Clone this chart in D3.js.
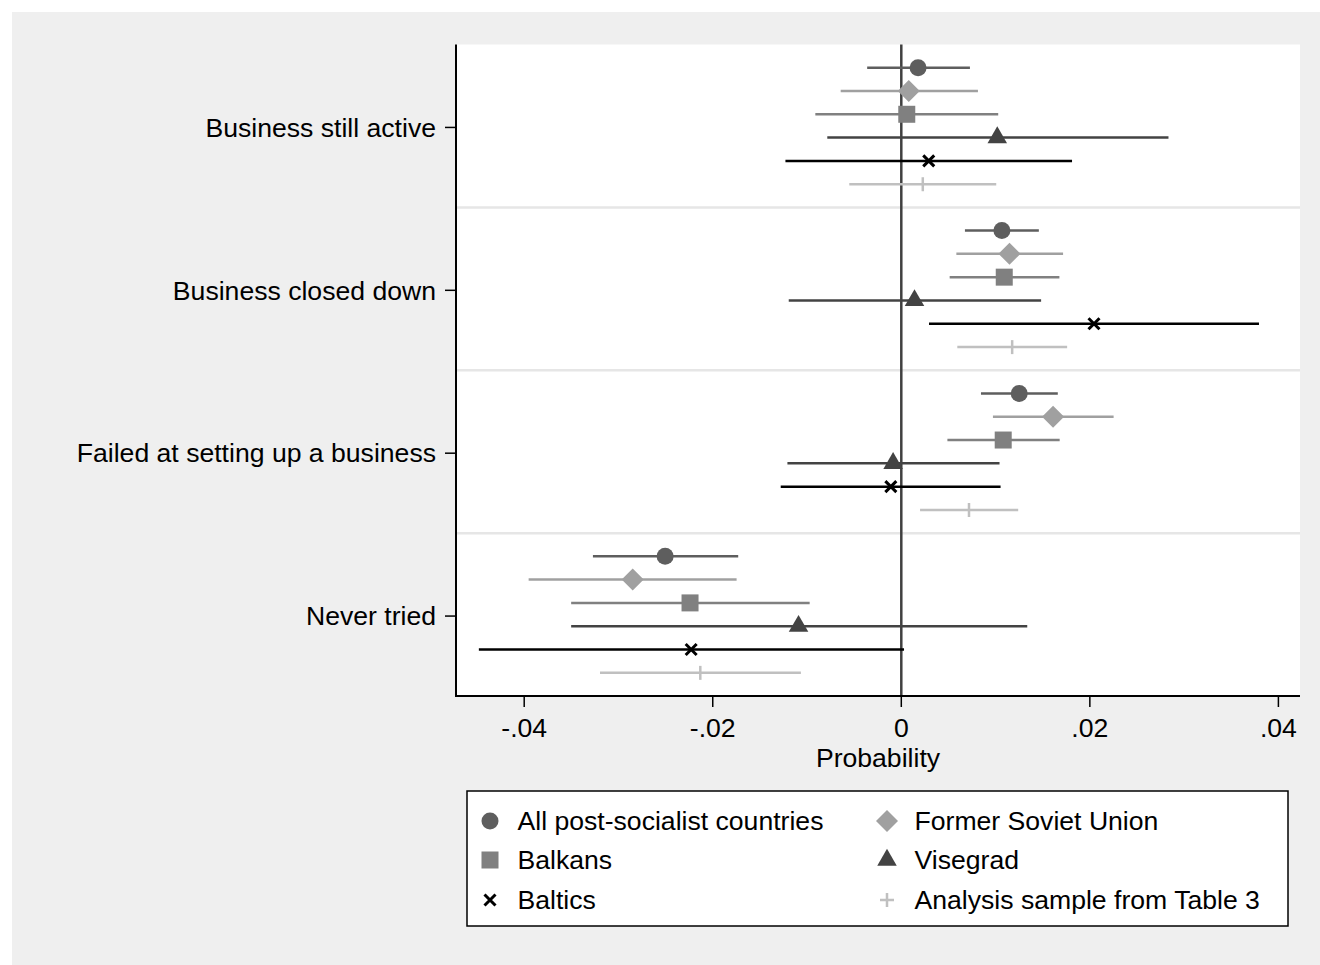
<!DOCTYPE html>
<html lang="en">
<head>
    <meta charset="UTF-8">
    <title>Probability by outcome</title>
    <script src="https://cdn.jsdelivr.net/npm/d3@7"></script>
</head>
<style>
    body { margin: 0; background: #ffffff; }
    text { font-family: "Liberation Sans", Arial, Helvetica, sans-serif; fill: #000; }
</style>
<body>
<script>

    var categories = ["Business still active", "Business closed down",
                      "Failed at setting up a business", "Never tried"];
    var series = ["All post-socialist countries", "Former Soviet Union", "Balkans",
                  "Visegrad", "Baltics", "Analysis sample from Table 3"];

    // point estimates, one row per series, one value per category
    var est = [
        [0.00178, 0.01067, 0.01251, -0.02505],
        [0.00079, 0.01148, 0.01610, -0.02849],
        [0.00058, 0.01092, 0.01081, -0.02241],
        [0.01018, 0.00140, -0.00087, -0.01090],
        [0.00291, 0.02044, -0.00111, -0.02229],
        [0.00228, 0.01176, 0.00718, -0.02132]
    ];
    // lower and upper bounds of the intervals
    var lo = [
        [-0.00362, 0.00675, 0.00845, -0.03271],
        [-0.00643, 0.00584, 0.00972, -0.03953],
        [-0.00912, 0.00513, 0.00489, -0.03502],
        [-0.00785, -0.01194, -0.01208, -0.03502],
        [-0.01229, 0.00294, -0.01279, -0.04481],
        [-0.00552, 0.00594, 0.00199, -0.03196]
    ];
    var hi = [
        [0.00728, 0.01459, 0.01660, -0.01730],
        [0.00813, 0.01716, 0.02252, -0.01747],
        [0.01028, 0.01677, 0.01680, -0.00972],
        [0.02834, 0.01483, 0.01042, 0.01336],
        [0.01811, 0.03794, 0.01053, 0.00029],
        [0.01007, 0.01759, 0.01240, -0.01065]
    ];
    var xTicks = [-0.04, -0.02, 0, 0.02, 0.04];
    var xTickLabels = ["-.04", "-.02", "0", ".02", ".04"];

    var colors = ["#5e5e5e", "#a0a0a0", "#808080", "#434343", "#000000", "#c0c0c0"];
    var shapes = ["circle", "diamond", "square", "triangle", "x", "plus"];

    var w = 1320, h = 965;
    var pLeft = 456, pRight = 1300, pTop = 44.5, pBottom = 696;
    var fs = "26.6px";

    var svg = d3.select("body").append("svg")
            .attr("width", w).attr("height", h);

    svg.append("rect").attr("width", w).attr("height", h).attr("fill", "#ffffff");
    svg.append("rect").attr("x", 12).attr("y", 12).attr("width", w - 12).attr("height", h - 12)
            .attr("fill", "#efefef");

    var x = d3.scaleLinear().domain([-0.04, 0.04]).range([524.2, 1278.4]);
    var y = d3.scaleBand().domain(categories).range([pTop, pBottom]);
    var row = d3.scalePoint().domain(series).range([-58.3, 58.3]);

    function rowY(cat, s) {
        return y(cat) + y.bandwidth() / 2 + row(s);
    }

    svg.append("rect").attr("x", pLeft).attr("y", pTop)
            .attr("width", pRight - pLeft).attr("height", pBottom - pTop)
            .attr("fill", "#ffffff");

    // separators between categories
    svg.selectAll("line.sep")
            .data(categories.slice(1))
            .enter().append("line")
            .attr("class", "sep")
            .attr("x1", pLeft).attr("x2", pRight)
            .attr("y1", function (d) { return y(d); })
            .attr("y2", function (d) { return y(d); })
            .attr("stroke", "#e6e6e6").attr("stroke-width", 2.5);

    // zero line
    svg.append("line")
            .attr("x1", x(0)).attr("x2", x(0))
            .attr("y1", pTop).attr("y2", pBottom)
            .attr("stroke", "#404040").attr("stroke-width", 2.5);

    function drawMarker(g, shape, color, legend) {
        if (shape === "circle") {
            g.append("circle").attr("r", 8.5).attr("fill", color);
        } else if (shape === "square") {
            g.append("rect").attr("x", -8.5).attr("y", -8.5).attr("width", 17).attr("height", 17)
                    .attr("fill", color);
        } else if (shape === "diamond") {
            g.append("path").attr("d", "M0,-11L11,0L0,11L-11,0Z").attr("fill", color);
        } else if (shape === "triangle") {
            g.append("path").attr("d", d3.symbol().type(d3.symbolTriangle).size(165)()).attr("fill", color);
        } else if (shape === "x") {
            g.append("path").attr("d", "M-5.5,-5.5L5.5,5.5M-5.5,5.5L5.5,-5.5")
                    .attr("stroke", color).attr("stroke-width", 3).attr("fill", "none");
        } else if (shape === "plus") {
            g.append("path").attr("d", legend ? "M0,-7L0,7M-7,0L7,0" : "M0,-7L0,7")
                    .attr("stroke", color).attr("stroke-width", 2.5).attr("fill", "none");
        }
    }

    series.forEach(function (s, i) {
        var pts = categories.map(function (c, k) {
            return {cat: c, e: est[i][k], l: lo[i][k], u: hi[i][k]};
        });
        var g = svg.append("g");
        g.selectAll("line")
                .data(pts)
                .enter().append("line")
                .attr("x1", function (d) { return x(d.l); })
                .attr("x2", function (d) { return x(d.u); })
                .attr("y1", function (d) { return rowY(d.cat, s); })
                .attr("y2", function (d) { return rowY(d.cat, s); })
                .attr("stroke", colors[i]).attr("stroke-width", 2.5);
        pts.forEach(function (d) {
            var m = g.append("g").attr("transform", "translate(" + x(d.e) + "," + rowY(d.cat, s) + ")");
            drawMarker(m, shapes[i], colors[i], false);
        });
    });

    // axes
    svg.append("line").attr("x1", pLeft).attr("x2", pLeft).attr("y1", pTop).attr("y2", pBottom + 1)
            .attr("stroke", "#000").attr("stroke-width", 2);
    svg.append("line").attr("x1", pLeft).attr("x2", pRight).attr("y1", pBottom).attr("y2", pBottom)
            .attr("stroke", "#000").attr("stroke-width", 2);

    svg.selectAll("line.ytick")
            .data(categories).enter().append("line")
            .attr("x1", pLeft - 11).attr("x2", pLeft)
            .attr("y1", function (d) { return y(d) + y.bandwidth() / 2 + 1.5; })
            .attr("y2", function (d) { return y(d) + y.bandwidth() / 2 + 1.5; })
            .attr("stroke", "#000").attr("stroke-width", 1.5);
    svg.selectAll("text.ylab")
            .data(categories).enter().append("text")
            .attr("x", pLeft - 20)
            .attr("y", function (d) { return y(d) + y.bandwidth() / 2 + 1.5; })
            .attr("dy", "0.35em")
            .attr("text-anchor", "end")
            .attr("font-size", fs)
            .text(function (d) { return d; });

    svg.selectAll("line.xtick")
            .data(xTicks).enter().append("line")
            .attr("x1", function (d) { return x(d); })
            .attr("x2", function (d) { return x(d); })
            .attr("y1", pBottom).attr("y2", pBottom + 11)
            .attr("stroke", "#000").attr("stroke-width", 1.5);
    svg.selectAll("text.xlab")
            .data(xTicks).enter().append("text")
            .attr("x", function (d) { return x(d); })
            .attr("y", 737)
            .attr("text-anchor", "middle")
            .attr("font-size", fs)
            .text(function (d, i) { return xTickLabels[i]; });
    svg.append("text").attr("x", 878).attr("y", 767)
            .attr("text-anchor", "middle").attr("font-size", fs)
            .text("Probability");

    // legend
    svg.append("rect").attr("x", 467).attr("y", 791).attr("width", 821).attr("height", 135)
            .attr("fill", "#ffffff").attr("stroke", "#000").attr("stroke-width", 1.5);
    var legX = [490, 887], legY = [821, 860, 900];
    series.forEach(function (s, i) {
        var cx = legX[i % 2], cy = legY[Math.floor(i / 2)];
        var m = svg.append("g").attr("transform", "translate(" + cx + "," + cy + ")");
        drawMarker(m, shapes[i], colors[i], true);
        svg.append("text").attr("x", cx + 27.5).attr("y", cy).attr("dy", "0.35em")
                .attr("font-size", fs).text(s);
    });
</script>
</body>
</html>
